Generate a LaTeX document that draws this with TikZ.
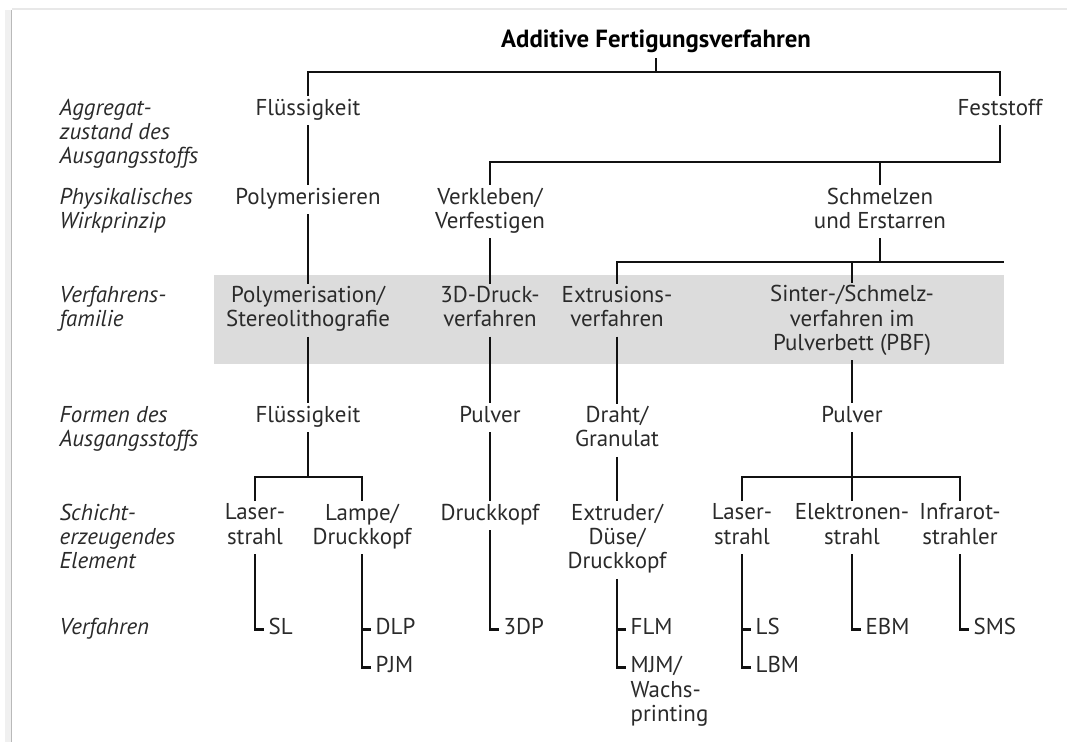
\documentclass[tikz,border=0pt]{standalone}
\usepackage{fontspec}
\setmainfont{PT Sans}
\newcommand\lblfont{\fontsize{17.2}{18.2}\selectfont}
\newcommand\headfont{\fontsize{18.6}{19}\selectfont\bfseries}
\definecolor{txt}{HTML}{2A2A2A}
\definecolor{lin}{HTML}{111111}
\definecolor{band}{HTML}{DCDCDC}
\begin{document}
\begin{tikzpicture}[x=0.75pt,y=-0.75pt,
  lvl/.style={font=\lblfont, text=txt, align=center, inner sep=0pt, outer sep=2pt,
    yshift=-2pt, execute at begin node=\strut, execute at end node=\strut},
  rowlbl/.style={lvl, align=left, anchor=west, font=\lblfont\itshape},
  leaf/.style={lvl, align=left, anchor=west, inner xsep=3.5pt, outer sep=0pt},
  conn/.style={line width=1.85pt, draw=lin}]
\useasboundingbox (0,0) rectangle (1067,742);

% page edge with a soft shadow
\fill[gray!12] (5,10) rectangle (11,742);
\draw[gray!55, line width=1.4pt] (11.5,10) -- (11.5,742);
\draw[gray!18, line width=1.4pt] (12,9) -- (1067,9);

% grey band behind the process families
\fill[band] (214,275) rectangle (1004,364);

% row captions
\node[rowlbl] (cagg)  at (57,132.5) {Aggregat-\\zustand des\\Ausgangsstoffs};
\node[rowlbl] (cphys) at (57,209)   {Physikalisches\\Wirkprinzip};
\node[rowlbl] (cfam)  at (57,307.5) {Verfahrens-\\familie};
\node[rowlbl] (cform) at (57,427.5) {Formen des\\Ausgangsstoffs};
\node[rowlbl] (cel)   at (57,537.5) {Schicht-\\erzeugendes\\Element};
\node[rowlbl] (cverf) at (57,627)   {Verfahren};

% tree nodes
\node[lvl, font=\headfont, text=black] (root) at (656,40) {Additive Fertigungsverfahren};

\node[lvl] (fl1)  at (308,108) {Flüssigkeit};
\node[lvl] (fest) at (1000,108) {Feststoff};

\node[lvl] (poly) at (308,197) {Polymerisieren};
\node[lvl] (verk) at (490,209) {Verkleben/\\Verfestigen};
\node[lvl] (schm) at (880,209) {Schmelzen\\und Erstarren};

\node[lvl] (polym)  at (308,307.5) {Polymerisation/\\Stereolithografie};
\node[lvl] (dd)     at (490,307.5) {3D-Druck-\\verfahren};
\node[lvl] (extr)   at (617,307.5) {Extrusions-\\verfahren};
\node[lvl] (sinter) at (852,319)   {Sinter-/Schmelz-\\verfahren im\\Pulverbett (PBF)};

\node[lvl] (fl2)   at (308,415)   {Flüssigkeit};
\node[lvl] (pulv1) at (490,415)   {Pulver};
\node[lvl] (draht) at (617,427.5) {Draht/\\Granulat};
\node[lvl] (pulv2) at (852,415)   {Pulver};

\node[lvl] (las1)  at (255,525) {Laser-\\strahl};
\node[lvl] (lampe) at (362,525) {Lampe/\\Druckkopf};
\node[lvl] (dk)    at (490,513) {Druckkopf};
\node[lvl] (exd)   at (617,537.5) {Extruder/\\Düse/\\Druckkopf};
\node[lvl] (las2)  at (742,525) {Laser-\\strahl};
\node[lvl] (elek)  at (852,525) {Elektronen-\\strahl};
\node[lvl] (infra) at (960,525) {Infrarot-\\strahler};

\node[leaf] (sl)  at (264,627) {SL};
\node[leaf] (dlp) at (371,627) {DLP};
\node[leaf] (pjm) at (371,665) {PJM};
\node[leaf] (tdp) at (499,627) {3DP};
\node[leaf] (flm) at (626,627) {FLM};
\node[leaf] (mjm) at (626,690) {MJM/\\Wachs-\\printing};
\coordinate (mjmtick) at ([yshift=-2pt]626,665);
\node[leaf] (ls)  at (751,627) {LS};
\node[leaf] (lbm) at (751,665) {LBM};
\node[leaf] (ebm) at (861,627) {EBM};
\node[leaf] (sms) at (969,627) {SMS};

\coordinate (bar3end) at (1004,262);

% connectors
\draw[conn] (root.south) -- (root.south |- 0,72);
\draw[conn] (fl1.north) |- (fest.north |- 0,72) -- (fest.north);

\draw[conn] (fl1.south) -- (poly.north);
\draw[conn] (fest.south) |- (verk.north |- 0,162) -- (verk.north);
\draw[conn] (schm.north) -- (schm.north |- 0,162);

\draw[conn] (poly.south) -- (polym.north);
\draw[conn] (verk.south) -- (dd.north);
\draw[conn] (schm.south) -- (schm.south |- bar3end);
\draw[conn] (extr.north) |- (bar3end);
\draw[conn] (sinter.north) -- (sinter.north |- bar3end);

\draw[conn] (polym.south) -- (fl2.north);
\draw[conn] (dd.south) -- (pulv1.north);
\draw[conn] (extr.south) -- (draht.north);
\draw[conn] (sinter.south) -- (pulv2.north);

\draw[conn] (fl2.south) -- (fl2.south |- 0,477);
\draw[conn] (las1.north) |- (lampe.north |- 0,477) -- (lampe.north);
\draw[conn] (pulv1.south) -- (dk.north);
\draw[conn] (draht.south) -- (exd.north);
\draw[conn] (pulv2.south) -- (elek.north);
\draw[conn] (las2.north) |- (infra.north |- 0,477) -- (infra.north);

\draw[conn] (las1.south) |- (sl.west);
\draw[conn] (lampe.south) |- (pjm.west);
\draw[conn] (lampe.south |- dlp.west) -- (dlp.west);
\draw[conn] (dk.south) |- (tdp.west);
\draw[conn] (exd.south) |- (mjmtick);
\draw[conn] (exd.south |- flm.west) -- (flm.west);
\draw[conn] (las2.south) |- (lbm.west);
\draw[conn] (las2.south |- ls.west) -- (ls.west);
\draw[conn] (elek.south) |- (ebm.west);
\draw[conn] (infra.south) |- (sms.west);
\end{tikzpicture}
\end{document}
